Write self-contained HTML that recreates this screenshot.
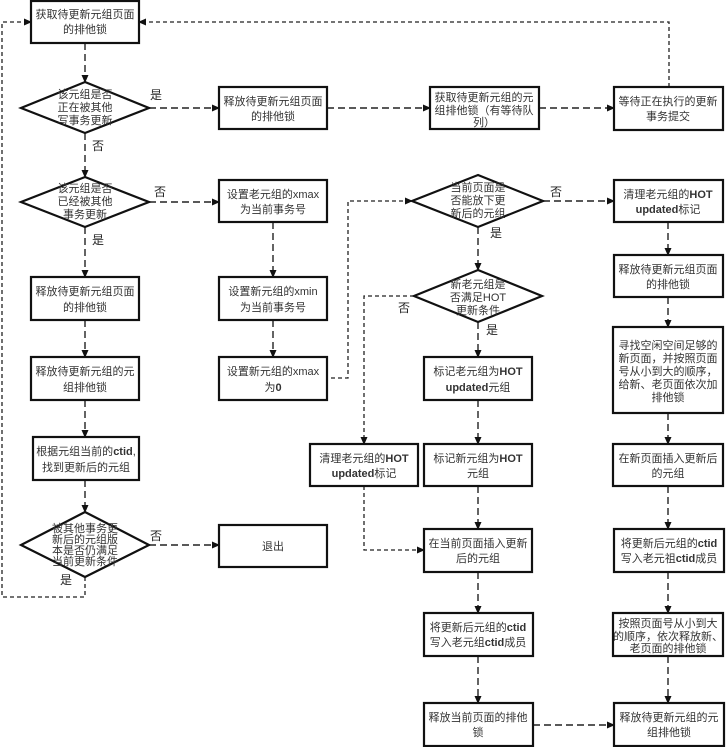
<!DOCTYPE html>
<html><head><meta charset="utf-8"><style>
html,body{margin:0;padding:0;background:#fff}
svg text{font-family:"Liberation Sans","Noto Sans CJK SC",sans-serif;font-size:11px;fill:#333;text-anchor:middle}
.b{fill:#fff;stroke:#111;stroke-width:2.2}
.l{fill:none;stroke:#222;stroke-width:1.4;stroke-dasharray:7 4}
.s{fill:none;stroke:#222;stroke-width:1.3;stroke-dasharray:4 3}
.lb{font-size:12px;fill:#222}
</style></head><body>
<svg width="727" height="747" xmlns="http://www.w3.org/2000/svg">
<defs><marker id="a" markerWidth="8" markerHeight="8" refX="7" refY="4" orient="auto" markerUnits="userSpaceOnUse"><path d="M0,0.5 L8,4 L0,7.5z" fill="#111"/></marker></defs>
<!-- connectors -->
<path class="l" d="M85,43 V82" marker-end="url(#a)"/>
<path class="l" d="M149,108 H219" marker-end="url(#a)"/>
<path class="l" d="M327,108 H430" marker-end="url(#a)"/>
<path class="l" d="M539,108 H614" marker-end="url(#a)"/>
<path class="s" d="M669,87 V22 H139" marker-end="url(#a)"/>
<path class="l" d="M85,133 V177" marker-end="url(#a)"/>
<path class="l" d="M149,202 H219" marker-end="url(#a)"/>
<path class="l" d="M85,227 V277" marker-end="url(#a)"/>
<path class="l" d="M85,320 V357" marker-end="url(#a)"/>
<path class="l" d="M85,400 V437" marker-end="url(#a)"/>
<path class="l" d="M85,480 V512" marker-end="url(#a)"/>
<path class="l" d="M149,545 H219" marker-end="url(#a)"/>
<path class="s" d="M85,577 V597 H2 V22 H31" marker-end="url(#a)"/>
<path class="l" d="M273,222 V277" marker-end="url(#a)"/>
<path class="l" d="M273,320 V357" marker-end="url(#a)"/>
<path class="s" d="M331,378 H348 V201 H412" marker-end="url(#a)"/>
<path class="l" d="M543,201 H614" marker-end="url(#a)"/>
<path class="l" d="M478,227 V270" marker-end="url(#a)"/>
<path class="s" d="M414,296 H364 V444" marker-end="url(#a)"/>
<path class="s" d="M364,486 V550 H424" marker-end="url(#a)"/>
<path class="l" d="M478,322 V357" marker-end="url(#a)"/>
<path class="l" d="M478,400 V444" marker-end="url(#a)"/>
<path class="l" d="M478,486 V529" marker-end="url(#a)"/>
<path class="l" d="M478,572 V613" marker-end="url(#a)"/>
<path class="l" d="M478,656 V703" marker-end="url(#a)"/>
<path class="l" d="M533,725 H614" marker-end="url(#a)"/>
<path class="l" d="M668,222 V255" marker-end="url(#a)"/>
<path class="l" d="M668,297 V327" marker-end="url(#a)"/>
<path class="l" d="M668,413 V444" marker-end="url(#a)"/>
<path class="l" d="M668,486 V529" marker-end="url(#a)"/>
<path class="l" d="M668,572 V613" marker-end="url(#a)"/>
<path class="l" d="M668,656 V703" marker-end="url(#a)"/>
<!-- left column -->
<rect class="b" x="31" y="1" width="108" height="42"/><text x="85" y="18">获取待更新元组页面</text><text x="85" y="33">的排他锁</text>
<polygon class="b" points="85,82 149,108 85,133 21,108"/><text x="85" y="98" font-size="10">该元组是否</text><text x="85" y="111" font-size="10">正在被其他</text><text x="85" y="124" font-size="10">写事务更新</text>
<polygon class="b" points="85,177 149,202 85,227 21,202"/><text x="85" y="192" font-size="10">该元组是否</text><text x="85" y="205" font-size="10">已经被其他</text><text x="85" y="218" font-size="10">事务更新</text>
<rect class="b" x="31" y="277" width="108" height="43"/><text x="85" y="295">释放待更新元组页面</text><text x="85" y="311">的排他锁</text>
<rect class="b" x="31" y="357" width="108" height="43"/><text x="85" y="375">释放待更新元组的元</text><text x="85" y="391">组排他锁</text>
<rect class="b" x="33" y="437" width="106" height="43"/><text x="86" y="455">根据元组当前的<tspan font-weight="bold">ctid</tspan>,</text><text x="86" y="471">找到更新后的元组</text>
<polygon class="b" points="85,512 149,545 85,577 21,545"/><text x="85" y="532" font-size="9">被其他事务更</text><text x="85" y="543" font-size="9">新后的元组版</text><text x="85" y="554" font-size="9">本是否仍满足</text><text x="85" y="565" font-size="9">当前更新条件</text>
<text class="lb" x="156" y="99">是</text><text class="lb" x="98" y="150">否</text>
<text class="lb" x="160" y="196">否</text><text class="lb" x="98" y="244">是</text>
<text class="lb" x="156" y="540">否</text><text class="lb" x="66" y="584">是</text>
<!-- second column -->
<rect class="b" x="219" y="87" width="108" height="42"/><text x="273" y="105">释放待更新元组页面</text><text x="273" y="120">的排他锁</text>
<rect class="b" x="219" y="180" width="108" height="42"/><text x="273" y="198">设置老元组的xmax</text><text x="273" y="213">为当前事务号</text>
<rect class="b" x="219" y="277" width="108" height="43"/><text x="273" y="295">设置新元组的xmin</text><text x="273" y="311">为当前事务号</text>
<rect class="b" x="219" y="357" width="108" height="43"/><text x="273" y="375">设置新元组的xmax</text><text x="273" y="391">为<tspan font-weight="bold">0</tspan></text>
<rect class="b" x="219" y="525" width="108" height="42"/><text x="273" y="550">退出</text>
<!-- third column -->
<rect class="b" x="430" y="87" width="109" height="42"/><text x="484" y="101">获取待更新元组的元</text><text x="484" y="114">组排他锁（有等待队</text><text x="484" y="126">列）</text>
<polygon class="b" points="478,175 543,201 478,227 412,201"/><text x="478" y="191" font-size="10">当前页面是</text><text x="478" y="204" font-size="10">否能放下更</text><text x="478" y="217" font-size="10">新后的元组</text>
<polygon class="b" points="478,270 542,296 478,322 414,296"/><text x="478" y="288" font-size="10">新老元组是</text><text x="478" y="301" font-size="10">否满足HOT</text><text x="478" y="314" font-size="10">更新条件</text>
<text class="lb" x="556" y="196">否</text><text class="lb" x="496" y="237">是</text><text class="lb" x="404" y="312">否</text><text class="lb" x="492" y="334">是</text>
<rect class="b" x="424" y="357" width="108" height="43"/><text x="478" y="375">标记老元组为<tspan font-weight="bold">HOT</tspan></text><text x="478" y="391"><tspan font-weight="bold">updated</tspan>元组</text>
<rect class="b" x="310" y="444" width="108" height="42"/><text x="364" y="462">清理老元组的<tspan font-weight="bold">HOT</tspan></text><text x="364" y="477"><tspan font-weight="bold">updated</tspan>标记</text>
<rect class="b" x="424" y="444" width="108" height="42"/><text x="478" y="462">标记新元组为<tspan font-weight="bold">HOT</tspan></text><text x="478" y="477">元组</text>
<rect class="b" x="424" y="529" width="108" height="43"/><text x="478" y="547">在当前页面插入更新</text><text x="478" y="562">后的元组</text>
<rect class="b" x="424" y="613" width="109" height="43"/><text x="478" y="631">将更新后元组的<tspan font-weight="bold">ctid</tspan></text><text x="478" y="646">写入老元组<tspan font-weight="bold">ctid</tspan>成员</text>
<rect class="b" x="424" y="703" width="109" height="43"/><text x="478" y="721">释放当前页面的排他</text><text x="478" y="736">锁</text>
<!-- right column -->
<rect class="b" x="614" y="87" width="109" height="43"/><text x="668" y="105">等待正在执行的更新</text><text x="668" y="120">事务提交</text>
<rect class="b" x="614" y="180" width="109" height="42"/><text x="668" y="198">清理老元组的<tspan font-weight="bold">HOT</tspan></text><text x="668" y="213"><tspan font-weight="bold">updated</tspan>标记</text>
<rect class="b" x="614" y="255" width="109" height="42"/><text x="668" y="273">释放待更新元组页面</text><text x="668" y="288">的排他锁</text>
<rect class="b" x="613" y="327" width="110" height="86"/><text x="668" y="349">寻找空闲空间足够的</text><text x="668" y="362">新页面，并按照页面</text><text x="668" y="375">号从小到大的顺序，</text><text x="668" y="388">给新、老页面依次加</text><text x="668" y="401">排他锁</text>
<rect class="b" x="613" y="444" width="110" height="42"/><text x="668" y="462">在新页面插入更新后</text><text x="668" y="477">的元组</text>
<rect class="b" x="614" y="529" width="110" height="43"/><text x="669" y="547">将更新后元组的<tspan font-weight="bold">ctid</tspan></text><text x="669" y="562">写入老元祖<tspan font-weight="bold">ctid</tspan>成员</text>
<rect class="b" x="613" y="613" width="110" height="43"/><text x="668" y="627">按照页面号从小到大</text><text x="668" y="640">的顺序，依次释放新、</text><text x="668" y="652">老页面的排他锁</text>
<rect class="b" x="614" y="703" width="110" height="43"/><text x="669" y="721">释放待更新元组的元</text><text x="669" y="736">组排他锁</text>
</svg>
</body></html>
